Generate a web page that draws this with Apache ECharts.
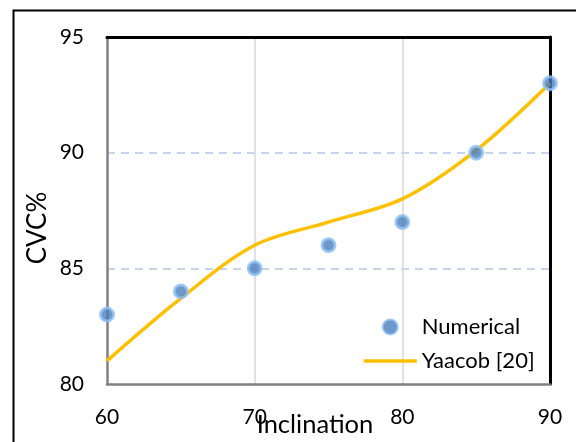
<!DOCTYPE html>
<html>
<head>
<meta charset="utf-8">
<script src="https://cdn.jsdelivr.net/npm/echarts@6/dist/echarts.min.js"></script>
<style>
  html, body { margin: 0; padding: 0; background: #fff; }
  #chart { width: 576px; height: 442px; }
</style>
</head>
<body>
<div id="chart"></div>
<script>
// Inclination angles (x) and CVC% values
const inclination = [60, 65, 70, 75, 80, 85, 90];
const numerical = [83, 84, 85, 86, 87, 90, 93];
const yaacob = [81, 83.7, 86, 87, 88, 90.1, 93];
const xTicks = [60, 70, 80, 90];
const yTicks = [80, 85, 90, 95];

const FONT = 'Lato';

const chart = echarts.init(document.getElementById('chart'), null, { renderer: 'canvas' });

const option = {
  backgroundColor: '#fff',
  animation: false,
  textStyle: { fontFamily: FONT, color: '#000' },
  grid: { left: 107, right: 26, top: 37, bottom: 58, containLabel: false },
  xAxis: [
    {
      type: 'value', min: xTicks[0], max: xTicks[xTicks.length - 1], interval: 10,
      position: 'bottom',
      axisLine: { show: true, lineStyle: { color: '#808080', width: 2.5 } },
      axisTick: { show: false },
      axisLabel: { fontSize: 21, color: '#000', margin: 23, fontFamily: FONT },
      splitLine: { show: true, showMinLine: false, showMaxLine: false,
        lineStyle: { color: '#d9d9d9', width: 1.5 } }
    },
    {
      type: 'value', min: xTicks[0], max: xTicks[xTicks.length - 1], interval: 10,
      position: 'top',
      axisLine: { show: true, onZero: false, lineStyle: { color: '#000', width: 3 } },
      axisTick: { show: false }, axisLabel: { show: false }, splitLine: { show: false }
    }
  ],
  yAxis: [
    {
      type: 'value', min: yTicks[0], max: yTicks[yTicks.length - 1], interval: 5,
      position: 'left',
      axisLine: { show: true, onZero: false, lineStyle: { color: '#808080', width: 2.5 } },
      axisTick: { show: false },
      axisLabel: { fontSize: 21, color: '#000', margin: 23, fontFamily: FONT },
      splitLine: { show: true, showMinLine: false, showMaxLine: false,
        lineStyle: { color: '#b4c7e7', width: 1.5, type: [8, 6] } }
    },
    {
      type: 'value', min: yTicks[0], max: yTicks[yTicks.length - 1], interval: 5,
      position: 'right',
      axisLine: { show: true, onZero: false, lineStyle: { color: '#000', width: 3 } },
      axisTick: { show: false }, axisLabel: { show: false }, splitLine: { show: false }
    }
  ],
  legend: {
    orient: 'vertical',
    left: 362, top: 316, padding: 0,
    itemWidth: 53, itemHeight: 15, itemGap: 12,
    textStyle: { fontSize: 22, lineHeight: 22, fontFamily: FONT, color: '#000' },
    data: [
      { name: 'Numerical' },
      { name: 'Yaacob [20]', itemStyle: { opacity: 0 }, lineStyle: { width: 3.5, color: '#ffc000' } }
    ]
  },
  series: [
    {
      name: 'Yaacob [20]',
      type: 'line',
      smooth: 0.33,
      symbol: 'none',
      data: inclination.map((x, i) => [x, yaacob[i]]),
      lineStyle: { color: '#ffc000', width: 3.5 },
      itemStyle: { color: '#ffc000' },
      z: 2
    },
    {
      name: 'Numerical',
      type: 'scatter',
      symbol: 'circle',
      symbolSize: 13,
      data: inclination.map((x, i) => [x, numerical[i]]),
      itemStyle: { color: '#4a7ebb', borderColor: '#90c2f4', borderWidth: 3 },
      z: 3
    }
  ],
  graphic: [
    {
      type: 'rect', left: 11, top: 8, silent: true,
      shape: { width: 620, height: 500 },
      style: { fill: 'none', stroke: '#000', lineWidth: 2 }
    },
    {
      type: 'text', x: 315, y: 425, silent: true,
      style: { text: 'Inclination', font: '25.5px ' + FONT, fill: '#000',
        textAlign: 'center', textVerticalAlign: 'middle' }
    },
    {
      type: 'text', x: 38, y: 228, rotation: Math.PI / 2, silent: true,
      style: { text: 'CVC%', font: '26px ' + FONT, fill: '#000',
        textAlign: 'center', textVerticalAlign: 'middle' }
    }
  ]
};

chart.setOption(option);
</script>
</body>
</html>
